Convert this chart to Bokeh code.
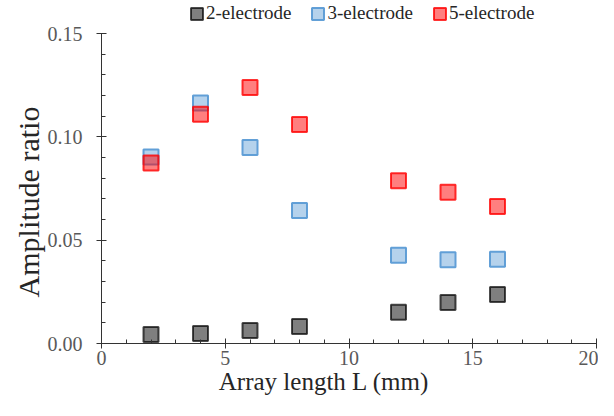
from bokeh.plotting import figure
from bokeh.models import (ColumnDataSource, Legend, LegendItem,
                          FixedTicker, PrintfTickFormatter)
from bokeh.embed import file_html
from bokeh.resources import INLINE

# ---- data ----
lengths = [2, 4, 6, 8, 12, 14, 16]
amp_2e = [0.0044, 0.0048, 0.0063, 0.0082, 0.0151, 0.0198, 0.0237]
amp_3e = [0.0903, 0.1164, 0.0948, 0.0643, 0.0427, 0.0405, 0.0408]
amp_5e = [0.0873, 0.1109, 0.1239, 0.1060, 0.0787, 0.0732, 0.0663]
series_names = ["2-electrode", "3-electrode", "5-electrode"]
x_ticks = [0, 5, 10, 15, 20]
y_ticks = [0.0, 0.05, 0.10, 0.15]
x_title = "Array length L (mm)"
y_title = "Amplitude ratio"

FONT = "Liberation Serif"
NBSP = "\u00a0"
Y_MAX = 0.15
# frame extends above the axis top so the legend can sit there (33 px of 343)
Y_TOP = Y_MAX * 343 / 310

p = figure(width=598, height=400, x_range=(0, 20), y_range=(0, Y_TOP),
           output_backend="svg", toolbar_location=None,
           min_border_left=101, min_border_right=2, min_border_top=0,
           min_border_bottom=57)
p.outline_line_color = None
p.grid.visible = False
p.background_fill_color = "white"

styles = [
    dict(fill_color="#000000", fill_alpha=0.5, line_color="#000000", line_alpha=0.7),
    dict(fill_color="#5b9bd5", fill_alpha=0.45, line_color="#5b9bd5", line_alpha=0.95),
    dict(fill_color="#ff0000", fill_alpha=0.5, line_color="#ff0000", line_alpha=0.8),
]
renderers = []
for ys, st in zip([amp_2e, amp_3e, amp_5e], styles):
    src = ColumnDataSource(dict(x=lengths, y=ys))
    r = p.rect("x", "y", width=15, height=15, width_units="screen",
               height_units="screen", source=src, line_width=2, **st)
    renderers.append(r)

# axes
for ax in (p.xaxis[0], p.yaxis[0]):
    ax.axis_line_color = "#333333"
    ax.axis_line_width = 1
    ax.major_tick_line_color = "#333333"
    ax.minor_tick_line_color = "#333333"
    ax.major_tick_in = 5
    ax.major_tick_out = 5
    ax.minor_tick_in = 4
    ax.minor_tick_out = 0
    ax.major_label_text_font = FONT
    ax.major_label_text_font_size = "20px"
    ax.major_label_text_color = "#595959"
    ax.axis_label_text_font = FONT
    ax.axis_label_text_font_style = "normal"
    ax.axis_label_text_color = "#262626"
    ax.axis_label_standoff = 0

p.xaxis[0].ticker = FixedTicker(ticks=x_ticks, minor_ticks=list(range(0, 21)))
p.yaxis[0].ticker = FixedTicker(ticks=y_ticks,
                                minor_ticks=[i / 100 for i in range(0, 16)])
p.yaxis[0].bounds = (0, Y_MAX)
p.yaxis[0].formatter = PrintfTickFormatter(format="%.2f")
p.xaxis[0].major_label_standoff = 2
p.yaxis[0].major_label_standoff = 14
# trailing no-break spaces shift the centred titles to where the reference has them
p.xaxis[0].axis_label = x_title + NBSP * 8
p.xaxis[0].axis_label_text_font_size = "25px"
p.yaxis[0].axis_label = y_title + NBSP * 8
p.yaxis[0].axis_label_text_font_size = "30px"

legend = Legend(items=[LegendItem(label=n, renderers=[r]) for n, r in zip(series_names, renderers)],
                orientation="horizontal", location=(88, 319),
                glyph_width=15, glyph_height=15, label_height=15,
                label_standoff=2, spacing=19, padding=0, margin=0,
                border_line_color=None, background_fill_alpha=0,
                label_text_font=FONT, label_text_font_size="19px",
                label_text_color="#262626", label_text_baseline="middle")
p.add_layout(legend)

open("out.html", "w").write(file_html(p, INLINE))
